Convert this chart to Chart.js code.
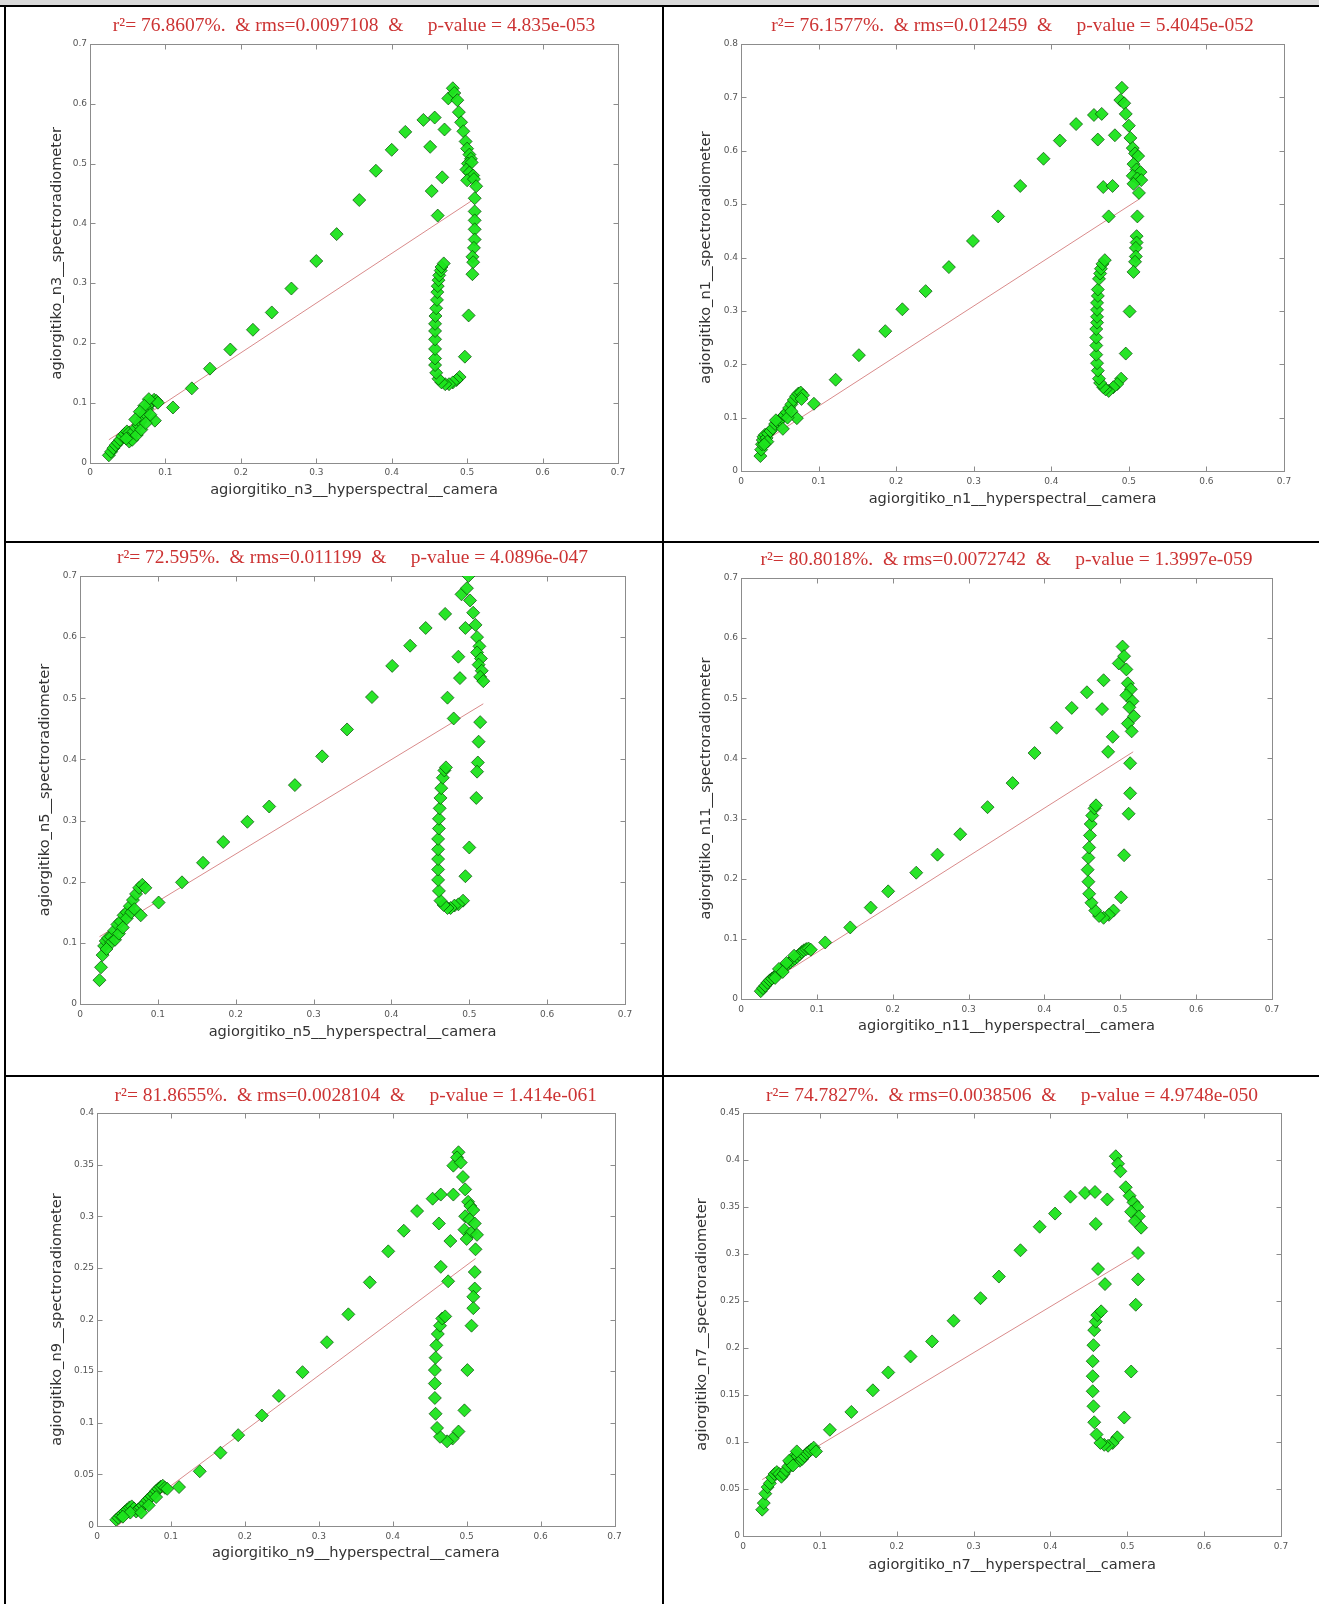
<!DOCTYPE html>
<html>
<head>
<meta charset="utf-8">
<script src="https://cdn.jsdelivr.net/npm/chart.js@4.4.1/dist/chart.umd.min.js"></script>
<style>
html, body { margin: 0; padding: 0; background: #fff; }
#page { position: relative; width: 1319px; height: 1604px; overflow: hidden; background: #fff; }
.band { position: absolute; left: 0; top: 0; width: 1319px; height: 5px; background: #d9d9d9; }
.rule { position: absolute; background: #000; }
canvas { position: absolute; }
</style>
</head>
<body>
<div id="page">
  <div class="band"></div>
</div>
<script>
// ---- measured reflectance pairs: [camera, spectroradiometer] ----
const n3Points = [
  [0.025,0.012],[0.028,0.018],[0.031,0.024],[0.034,0.029],[0.037,0.033],[0.040,0.038],[0.043,0.044],[0.046,0.048],
  [0.049,0.052],[0.052,0.050],[0.055,0.045],[0.058,0.052],[0.061,0.058],[0.064,0.063],[0.067,0.068],[0.070,0.075],
  [0.073,0.082],[0.076,0.090],[0.079,0.097],[0.082,0.102],[0.085,0.105],[0.088,0.103],[0.090,0.100],[0.086,0.070],
  [0.052,0.035],[0.056,0.038],[0.062,0.046],[0.068,0.055],[0.074,0.066],[0.080,0.080],[0.078,0.106],[0.072,0.095],
  [0.066,0.085],[0.060,0.072],[0.048,0.040],
  [0.110,0.092],[0.135,0.124],[0.159,0.157],[0.186,0.189],[0.216,0.222],[0.241,0.251],[0.267,0.291],[0.300,0.337],
  [0.327,0.382],[0.357,0.439],[0.379,0.488],[0.400,0.523],[0.418,0.553],[0.442,0.573],[0.457,0.577],[0.475,0.609],
  [0.481,0.626],[0.483,0.618],[0.487,0.606],[0.489,0.586],[0.492,0.569],[0.495,0.554],[0.498,0.537],[0.500,0.525],
  [0.503,0.515],[0.505,0.508],[0.501,0.500],[0.506,0.502],[0.499,0.490],[0.503,0.485],[0.508,0.480],[0.500,0.472],
  [0.509,0.474],[0.512,0.462],[0.510,0.442],[0.510,0.420],[0.510,0.405],[0.510,0.390],[0.510,0.373],[0.509,0.359],
  [0.507,0.344],[0.508,0.335],[0.507,0.315],[0.502,0.246],[0.497,0.177],
  [0.490,0.143],[0.486,0.138],[0.481,0.134],[0.476,0.131],[0.471,0.131],[0.466,0.134],[0.462,0.140],[0.459,0.150],
  [0.4575,0.163],[0.4575,0.174],[0.4575,0.190],[0.4575,0.206],[0.4575,0.220],[0.4575,0.232],[0.458,0.245],[0.459,0.258],
  [0.460,0.272],[0.4605,0.285],[0.461,0.295],[0.462,0.305],[0.463,0.313],[0.465,0.321],[0.466,0.327],[0.469,0.333],
  [0.453,0.454],[0.461,0.413],[0.467,0.477],[0.470,0.557],[0.451,0.528]
];
const n1Points = [
  [0.025,0.028],[0.026,0.040],[0.027,0.050],[0.028,0.058],[0.029,0.064],[0.031,0.068],[0.033,0.062],[0.035,0.070],
  [0.038,0.075],[0.041,0.080],[0.044,0.088],[0.047,0.092],[0.050,0.095],[0.053,0.100],[0.056,0.105],[0.059,0.110],
  [0.062,0.118],[0.065,0.125],[0.068,0.133],[0.071,0.140],[0.074,0.145],[0.077,0.147],[0.080,0.142],[0.078,0.135],
  [0.072,0.099],[0.054,0.079],[0.045,0.095],[0.060,0.100],[0.065,0.112],[0.034,0.055],[0.030,0.050],
  [0.094,0.126],[0.122,0.171],[0.152,0.217],[0.186,0.262],[0.208,0.303],[0.238,0.337],[0.268,0.382],[0.299,0.431],
  [0.3315,0.477],[0.360,0.534],[0.390,0.585],[0.411,0.619],[0.432,0.650],[0.455,0.667],[0.465,0.669],
  [0.482,0.629],[0.460,0.621],[0.467,0.532],[0.479,0.534],[0.474,0.477],
  [0.491,0.718],[0.489,0.695],[0.494,0.689],[0.496,0.669],[0.500,0.647],[0.502,0.624],[0.505,0.605],[0.508,0.595],
  [0.512,0.590],[0.506,0.575],[0.510,0.565],[0.515,0.560],[0.505,0.553],[0.511,0.548],[0.516,0.545],[0.506,0.538],
  [0.513,0.521],[0.511,0.477],[0.510,0.440],[0.510,0.428],[0.509,0.418],[0.509,0.402],[0.508,0.392],[0.506,0.373],
  [0.501,0.299],[0.496,0.220],[0.490,0.173],
  [0.485,0.163],[0.480,0.157],[0.474,0.150],[0.470,0.153],[0.467,0.157],[0.463,0.165],[0.4615,0.173],[0.460,0.188],
  [0.459,0.202],[0.458,0.218],[0.458,0.235],[0.458,0.250],[0.458,0.266],[0.459,0.278],[0.459,0.289],[0.459,0.302],
  [0.459,0.315],[0.460,0.328],[0.460,0.340],[0.4615,0.360],[0.463,0.370],[0.464,0.379],[0.466,0.388],[0.469,0.395]
];
const n5Points = [
  [0.025,0.039],[0.027,0.060],[0.029,0.080],[0.031,0.095],[0.033,0.103],[0.036,0.108],[0.040,0.110],[0.044,0.120],
  [0.048,0.130],[0.052,0.135],[0.056,0.145],[0.060,0.150],[0.064,0.160],[0.068,0.170],[0.072,0.180],[0.076,0.190],
  [0.080,0.195],[0.084,0.190],[0.040,0.100],[0.045,0.105],[0.050,0.115],[0.055,0.125],[0.060,0.140],[0.066,0.150],
  [0.070,0.155],[0.078,0.145],[0.034,0.090],
  [0.101,0.166],[0.131,0.199],[0.158,0.231],[0.184,0.265],[0.215,0.298],[0.243,0.323],[0.276,0.358],[0.311,0.405],
  [0.343,0.449],[0.375,0.502],[0.401,0.553],[0.424,0.586],[0.444,0.615],[0.469,0.638],[0.490,0.670],[0.499,0.700],
  [0.497,0.680],[0.501,0.660],[0.505,0.640],[0.508,0.620],[0.510,0.600],[0.513,0.585],[0.510,0.575],[0.515,0.565],
  [0.512,0.555],[0.516,0.545],[0.514,0.535],[0.518,0.528],[0.514,0.461],[0.512,0.429],[0.511,0.395],[0.510,0.380],
  [0.509,0.337],[0.500,0.256],[0.495,0.209],
  [0.492,0.169],[0.486,0.163],[0.481,0.161],[0.476,0.157],[0.472,0.157],[0.467,0.162],[0.463,0.169],[0.461,0.185],
  [0.460,0.203],[0.460,0.220],[0.460,0.237],[0.460,0.253],[0.460,0.270],[0.461,0.287],[0.461,0.303],[0.462,0.320],
  [0.463,0.337],[0.464,0.353],[0.466,0.370],[0.468,0.382],[0.470,0.387],
  [0.472,0.501],[0.480,0.467],[0.488,0.533],[0.486,0.568],[0.495,0.615]
];
const n11Points = [
  [0.026,0.013],[0.029,0.018],[0.032,0.022],[0.035,0.027],[0.038,0.031],[0.041,0.034],[0.044,0.037],[0.047,0.040],
  [0.050,0.044],[0.053,0.048],[0.056,0.052],[0.059,0.055],[0.062,0.058],[0.065,0.061],[0.068,0.064],[0.071,0.067],
  [0.074,0.070],[0.077,0.074],[0.080,0.078],[0.083,0.081],[0.086,0.083],[0.089,0.084],[0.092,0.082],[0.050,0.050],
  [0.060,0.060],[0.070,0.072],[0.045,0.035],[0.055,0.045],
  [0.111,0.094],[0.144,0.119],[0.171,0.152],[0.194,0.179],[0.231,0.210],[0.259,0.240],[0.289,0.274],[0.325,0.319],
  [0.358,0.359],[0.387,0.409],[0.416,0.451],[0.436,0.484],[0.456,0.510],[0.478,0.530],[0.503,0.586],
  [0.476,0.482],[0.490,0.436],[0.484,0.411],[0.498,0.558],
  [0.505,0.570],[0.508,0.548],[0.510,0.525],[0.514,0.515],[0.508,0.505],[0.516,0.495],[0.512,0.485],[0.518,0.470],
  [0.510,0.458],[0.515,0.445],[0.513,0.392],[0.513,0.342],[0.511,0.308],[0.505,0.239],[0.501,0.169],
  [0.491,0.147],[0.485,0.140],[0.478,0.135],[0.472,0.138],[0.467,0.147],[0.462,0.160],[0.459,0.175],[0.458,0.195],
  [0.457,0.215],[0.458,0.235],[0.459,0.252],[0.460,0.272],[0.461,0.291],[0.463,0.305],[0.466,0.317],[0.468,0.322]
];
const n9Points = [
  [0.026,0.006],[0.029,0.008],[0.032,0.010],[0.035,0.012],[0.038,0.014],[0.041,0.016],[0.044,0.018],[0.047,0.019],
  [0.050,0.017],[0.053,0.014],[0.056,0.016],[0.059,0.018],[0.062,0.020],[0.065,0.022],[0.068,0.025],[0.071,0.027],
  [0.074,0.029],[0.077,0.031],[0.080,0.034],[0.083,0.036],[0.086,0.038],[0.089,0.039],[0.092,0.037],[0.095,0.036],
  [0.045,0.013],[0.060,0.013],[0.070,0.020],[0.080,0.028],[0.035,0.009],
  [0.111,0.0377],[0.139,0.053],[0.167,0.071],[0.191,0.088],[0.223,0.107],[0.246,0.126],[0.278,0.149],[0.311,0.178],
  [0.340,0.205],[0.369,0.236],[0.394,0.266],[0.415,0.286],[0.433,0.305],[0.454,0.317],[0.465,0.321],[0.482,0.321],
  [0.482,0.349],[0.489,0.362],[0.487,0.357],
  [0.4625,0.293],[0.478,0.276],[0.465,0.251],[0.475,0.237],
  [0.492,0.352],[0.495,0.338],[0.498,0.326],[0.502,0.314],[0.505,0.310],[0.509,0.306],[0.498,0.300],[0.504,0.297],
  [0.511,0.293],[0.497,0.287],[0.506,0.284],[0.514,0.282],[0.500,0.278],[0.512,0.268],[0.511,0.246],[0.511,0.230],
  [0.509,0.222],[0.509,0.211],[0.5066,0.194],[0.501,0.151],[0.497,0.112],
  [0.489,0.0915],[0.481,0.0847],[0.4735,0.082],[0.464,0.0864],[0.460,0.095],[0.458,0.1087],[0.457,0.124],[0.457,0.138],
  [0.457,0.151],[0.458,0.163],[0.459,0.175],[0.461,0.186],[0.464,0.194],[0.467,0.201],[0.471,0.203]
];
const n7Points = [
  [0.025,0.028],[0.027,0.035],[0.029,0.045],[0.032,0.052],[0.035,0.056],[0.038,0.062],[0.041,0.066],[0.044,0.068],
  [0.047,0.066],[0.050,0.063],[0.053,0.066],[0.056,0.070],[0.059,0.074],[0.062,0.078],[0.065,0.082],[0.068,0.086],
  [0.071,0.085],[0.074,0.080],[0.077,0.082],[0.080,0.085],[0.083,0.088],[0.086,0.090],[0.089,0.092],[0.092,0.094],
  [0.095,0.090],[0.060,0.080],[0.070,0.090],[0.065,0.075],
  [0.113,0.113],[0.141,0.132],[0.169,0.155],[0.189,0.174],[0.218,0.191],[0.246,0.207],[0.274,0.229],[0.309,0.253],
  [0.333,0.276],[0.361,0.304],[0.386,0.329],[0.406,0.343],[0.426,0.361],[0.445,0.365],[0.458,0.366],[0.485,0.404],
  [0.459,0.332],[0.474,0.358],[0.462,0.284],[0.471,0.268],
  [0.488,0.396],[0.491,0.388],[0.498,0.371],[0.503,0.362],[0.508,0.355],[0.513,0.350],[0.505,0.345],[0.515,0.340],
  [0.510,0.335],[0.518,0.328],[0.514,0.301],[0.514,0.273],[0.511,0.246],[0.505,0.175],[0.496,0.126],
  [0.487,0.105],[0.481,0.099],[0.475,0.096],[0.470,0.097],[0.465,0.099],[0.460,0.108],[0.457,0.121],[0.456,0.138],
  [0.455,0.154],[0.455,0.170],[0.455,0.186],[0.456,0.203],[0.457,0.219],[0.459,0.228],[0.461,0.235],[0.466,0.239]
];

// least-squares lines as printed on each panel: [x0, x1] and [y0, y1]
const n3FitX = [0.025, 0.505], n3FitY = [0.038, 0.437];
const n1FitX = [0.025, 0.513], n1FitY = [0.051, 0.509];
const n5FitX = [0.025, 0.518], n5FitY = [0.110, 0.491];
const n11FitX = [0.027, 0.517], n11FitY = [0.019, 0.411];
const n9FitX = [0.027, 0.512], n9FitY = [0.000, 0.259];
const n7FitX = [0.025, 0.514], n7FitY = [0.060, 0.300];

// panel titles (fit statistics)
const panelTitles = [
  'r\u00b2= 76.8607%.  & rms=0.0097108  &     p-value = 4.835e-053',
  'r\u00b2= 76.1577%.  & rms=0.012459  &     p-value = 5.4045e-052',
  'r\u00b2= 72.595%.  & rms=0.011199  &     p-value = 4.0896e-047',
  'r\u00b2= 80.8018%.  & rms=0.0072742  &     p-value = 1.3997e-059',
  'r\u00b2= 81.8655%.  & rms=0.0028104  &     p-value = 1.414e-061',
  'r\u00b2= 74.7827%.  & rms=0.0038506  &     p-value = 4.9748e-050'
];
const bandNames = ['n3', 'n1', 'n5', 'n11', 'n9', 'n7'];
const xTicks = [0, 0.1, 0.2, 0.3, 0.4, 0.5, 0.6, 0.7];
const yMax = [0.7, 0.8, 0.7, 0.7, 0.4, 0.45];
const yStep = [0.1, 0.1, 0.1, 0.1, 0.05, 0.05];

const pointSets = [n3Points, n1Points, n5Points, n11Points, n9Points, n7Points];
const fitSets = [[n3FitX, n3FitY], [n1FitX, n1FitY], [n5FitX, n5FitY], [n11FitX, n11FitY], [n9FitX, n9FitY], [n7FitX, n7FitY]];

// ---- page layout (pixels) ----
const cells = [
  { x: 6, y: 7, w: 656, h: 534 },   { x: 664, y: 7, w: 655, h: 534 },
  { x: 6, y: 543, w: 656, h: 532 }, { x: 664, y: 543, w: 655, h: 532 },
  { x: 6, y: 1077, w: 656, h: 527 }, { x: 664, y: 1077, w: 655, h: 527 }
];
// plot frame and text anchors per panel
const frames = [
  { L: 90, R: 618, T: 44, B: 462.5, titleY: 25.8, xLabY: 490.7, yLabX: 57 },
  { L: 741, R: 1284, T: 44, B: 471, titleY: 25.8, xLabY: 499, yLabX: 706 },
  { L: 80, R: 625, T: 576, B: 1004, titleY: 558, xLabY: 1032, yLabX: 45 },
  { L: 741, R: 1272, T: 578, B: 999, titleY: 560, xLabY: 1026, yLabX: 706 },
  { L: 97, R: 614.5, T: 1113, B: 1526, titleY: 1096, xLabY: 1553.5, yLabX: 57 },
  { L: 743, R: 1281, T: 1113, B: 1536, titleY: 1096, xLabY: 1565.5, yLabX: 702 }
];

const page = document.getElementById('page');
function rule(x, y, w, h) {
  const d = document.createElement('div');
  d.className = 'rule';
  Object.assign(d.style, { left: x + 'px', top: y + 'px', width: w + 'px', height: h + 'px' });
  page.appendChild(d);
}
rule(0, 5, 1319, 2);
rule(4, 5, 2, 1599);
rule(662, 5, 2, 1599);
rule(4, 541, 1315, 2);
rule(4, 1075, 1315, 2);

const AXIS_GREY = '#8c8c8c';
const TITLE_SIZE = 19.5, TITLE_LH = 1.2;
const LABEL_SIZE = 14.6, LABEL_LH = 1.2;
const TICK_FONT = { family: "'DejaVu Sans', sans-serif", size: 9 };

// MATLAB-style box with inward ticks on all four sides
const boxedAxes = {
  id: 'boxedAxes',
  beforeDatasetsDraw(chart) {
    const { ctx, chartArea: a, scales: { x, y } } = chart;
    const t = 5;
    ctx.save();
    ctx.strokeStyle = AXIS_GREY;
    ctx.lineWidth = 1;
    const l = Math.round(a.left) + 0.5, r = Math.round(a.right) + 0.5;
    const tp = Math.round(a.top) + 0.5, b = Math.round(a.bottom) + 0.5;
    ctx.strokeRect(l, tp, r - l, b - tp);
    ctx.beginPath();
    x.ticks.forEach(tk => {
      const px = Math.round(x.getPixelForValue(tk.value)) + 0.5;
      ctx.moveTo(px, b); ctx.lineTo(px, b - t);
      ctx.moveTo(px, tp); ctx.lineTo(px, tp + t);
    });
    y.ticks.forEach(tk => {
      const py = Math.round(y.getPixelForValue(tk.value)) + 0.5;
      ctx.moveTo(l, py); ctx.lineTo(l + t, py);
      ctx.moveTo(r, py); ctx.lineTo(r - t, py);
    });
    ctx.stroke();
    ctx.restore();
  }
};

const tickFmt = v => String(+Number(v).toFixed(3));

pointSets.forEach((pts, i) => {
  const c = cells[i], f = frames[i];
  const cv = document.createElement('canvas');
  cv.width = c.w; cv.height = c.h;
  cv.style.left = c.x + 'px'; cv.style.top = c.y + 'px';
  cv.style.width = c.w + 'px'; cv.style.height = c.h + 'px';
  page.appendChild(cv);

  const titleLine = TITLE_SIZE * TITLE_LH;
  const titlePadTop = (f.titleY - c.y) - titleLine / 2;
  const titlePadBottom = (f.T - c.y) - titlePadTop - titleLine;
  const yAxisWidth = f.L - c.x;
  const xAxisHeight = (c.y + c.h) - f.B;
  const padRight = (c.x + c.w) - f.R;
  const labelLine = LABEL_SIZE * LABEL_LH;
  const xTitlePadBottom = (c.y + c.h - f.xLabY) - labelLine / 2;
  const yTitlePadTop = (f.yLabX - c.x) - labelLine / 2;

  const [fx, fy] = fitSets[i];
  new Chart(cv, {
    type: 'scatter',
    data: {
      datasets: [
        {
          data: pts.map(p => ({ x: p[0], y: p[1] })),
          pointStyle: 'rectRot',
          pointRadius: 6.5,
          pointBackgroundColor: 'rgba(28,228,28,0.95)',
          pointBorderColor: 'rgba(0,60,0,0.65)',
          pointBorderWidth: 1,
          order: 1
        },
        {
          type: 'line',
          data: fx.map((v, k) => ({ x: v, y: fy[k] })),
          borderColor: '#d98b8b',
          borderWidth: 1,
          pointRadius: 0,
          fill: false,
          order: 2
        }
      ]
    },
    options: {
      responsive: false,
      animation: false,
      devicePixelRatio: 1,
      layout: { padding: { left: 0, right: padRight, top: 0, bottom: 0 } },
      plugins: {
        legend: { display: false },
        tooltip: { enabled: false },
        title: {
          display: true,
          fullSize: false,
          text: panelTitles[i],
          color: '#cc3333',
          font: { family: "'Liberation Serif', 'Times New Roman', serif", size: TITLE_SIZE, lineHeight: TITLE_LH, weight: 'normal' },
          padding: { top: titlePadTop, bottom: titlePadBottom }
        }
      },
      scales: {
        x: {
          type: 'linear',
          min: xTicks[0], max: xTicks[xTicks.length - 1],
          afterBuildTicks: s => { s.ticks = xTicks.map(v => ({ value: v })); },
          afterFit: s => { s.height = xAxisHeight; },
          grid: { display: false, drawTicks: false },
          border: { display: false },
          ticks: { callback: tickFmt, padding: 5, color: '#555', maxRotation: 0, font: TICK_FONT },
          title: {
            display: true,
            text: 'agiorgitiko_' + bandNames[i] + '__hyperspectral__camera',
            color: '#333',
            font: { family: "'DejaVu Sans', sans-serif", size: LABEL_SIZE, lineHeight: LABEL_LH },
            padding: { top: 0, bottom: xTitlePadBottom }
          }
        },
        y: {
          type: 'linear',
          min: 0, max: yMax[i],
          ticks: { stepSize: yStep[i], callback: tickFmt, padding: 3, color: '#555', font: TICK_FONT },
          afterFit: s => { s.width = yAxisWidth; },
          grid: { display: false, drawTicks: false },
          border: { display: false },
          title: {
            display: true,
            text: 'agiorgitiko_' + bandNames[i] + '__spectroradiometer',
            color: '#333',
            font: { family: "'DejaVu Sans', sans-serif", size: LABEL_SIZE, lineHeight: LABEL_LH },
            padding: { top: yTitlePadTop, bottom: 0 }
          }
        }
      }
    },
    plugins: [boxedAxes]
  });
});
</script>
</body>
</html>
